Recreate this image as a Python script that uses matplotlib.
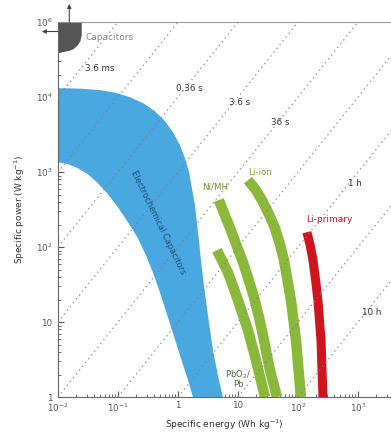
import numpy as np
import matplotlib
matplotlib.use('Agg')
import matplotlib.pyplot as plt

# Ragone plot - specific power vs specific energy

# electrochemical capacitors, upper and lower boundary (Wh/kg, W/kg)
ec_top_e = [0.01, 0.0233, 0.0501, 0.0891, 0.158, 0.261, 0.414, 0.607, 0.826, 1.08, 1.31,
            1.53, 1.71, 1.92, 2.07, 2.24, 2.42, 2.71, 3.16, 3.83, 4.82, 5.62]
ec_top_p = [13200, 12980, 12400, 11480, 10000, 8320, 6500, 4790, 3410, 2290, 1540,
            1000, 612, 363, 215, 124, 67, 31, 12.4, 4.24, 1.69, 1]
ec_bot_e = [0.01, 0.0147, 0.0215, 0.0316, 0.0464, 0.0681, 0.1, 0.147, 0.215, 0.293, 0.383,
            0.501, 0.656, 0.858, 1.12, 1.47, 1.78]
ec_bot_p = [1360, 1280, 1130, 940, 713, 509, 341, 215, 132, 78, 46,
            25.1, 12.8, 6.5, 3.31, 1.69, 1]

# capacitors corner
cap_e = [0.01, 0.025, 0.025, 0.0238, 0.0215, 0.0185, 0.0158, 0.0125, 0.01]
cap_p = [1e5, 1e5, 6.7e4, 5.6e4, 4.9e4, 4.4e4, 4.15e4, 4.0e4, 3.9e4]

# batteries (centre lines)
nimh_e = [4.8, 5.9, 7.4, 9.5, 12.1, 15.2, 18.5, 22.2, 26.1, 34.1, 44.7]
nimh_p = [424, 280, 179, 105, 63, 36, 21.5, 12, 6.7, 2.3, 1]
pb_e = [4.47, 5.5, 6.8, 8.3, 10, 14.7, 20, 28.2]
pb_p = [91, 65, 46, 30, 19.6, 7.8, 3.1, 1]
liion_e = [14.7, 19.5, 25.1, 32.5, 41.4, 50, 58.5, 67, 76.4, 92.6, 112]
liion_p = [782, 590, 424, 280, 179, 110, 67, 36, 19.6, 5.75, 1]
lip_e = [141, 160, 178, 197, 215, 242, 261]
lip_p = [158, 105, 67, 36, 19.6, 5.75, 1]

# constant discharge time lines (hours)
times_h = [1e-6, 1e-5, 1e-4, 1e-3, 1e-2, 1e-1, 1, 10, 100]
time_labels = ['3.6 ms', '0.36 s', '3.6 s', '36 s', '1 h', '10 h']
time_lab_e = [0.05, 1.58, 10.8, 50, 891, 1710]
time_lab_p = [2.4e4, 1.32e4, 8.6e3, 4.6e3, 713, 13.6]

xticks = [1e-2, 1e-1, 1, 10, 100, 1000]
xticklabels = ['10$^{-2}$', '10$^{-1}$', '1', '10', '10$^2$', '10$^3$']
yticks = [1, 10, 100, 1e3, 1e4, 1e5]
yticklabels = ['1', '10', '10$^2$', '10$^3$', '10$^4$', '10$^6$']

fig = plt.figure(figsize=(3.91, 4.34), dpi=100)
ax = fig.add_axes([0.148, 0.085, 0.852, 0.864])
ax.set_xscale('log')
ax.set_yscale('log')
ax.set_xlim(1e-2, 10**3.55)
ax.set_ylim(1, 1e5)

blue = '#4aa8e0'
green = '#8ab83a'
red = '#d0141e'

ax.fill(ec_top_e + ec_bot_e[::-1], ec_top_p + ec_bot_p[::-1], color=blue, lw=0, zorder=2)
ax.fill(cap_e, cap_p, color='#555555', lw=0, zorder=2)

for e, p in [(nimh_e, nimh_p), (pb_e, pb_p), (liion_e, liion_p)]:
    ax.plot(e, p, color=green, lw=7.5, solid_capstyle='butt', solid_joinstyle='round', zorder=3)
ax.plot(lip_e, lip_p, color=red, lw=6.5, solid_capstyle='butt', solid_joinstyle='round', zorder=3)

ee = np.logspace(-2, 4, 50)
for t in times_h:
    ax.plot(ee, ee / t, color='#808080', ls=(0, (1, 2.5)), lw=1.0, alpha=0.8, zorder=4)

for lab, e, p in zip(time_labels, time_lab_e, time_lab_p):
    ax.text(e, p, lab, fontsize=6.3, color='#333333', ha='center', va='center', zorder=5)

ax.text(0.029, 6.3e4, 'Capacitors', fontsize=6.5, color='#888888', ha='left', va='center')
ax.text(0.46, 215, 'Electrochemical Capacitors', fontsize=6, color='#1f4e79',
        rotation=-64, ha='center', va='center', zorder=5)
ax.text(4.1, 631, 'Ni/MH', fontsize=6.3, color='#6f8f2a', ha='center', va='center')
ax.text(23.3, 1000, 'Li-ion', fontsize=6.3, color='#7fa632', ha='center', va='center')
ax.text(329, 236, 'Li-primary', fontsize=6.5, color=red, ha='center', va='center')
ax.text(10, 1.75, 'PbO$_2$/\nPb', fontsize=6, color='#4f6a3a', ha='center', va='center',
        linespacing=0.9)

# arrows out of the capacitors box
ax.annotate('', xy=(0.0155, 1.75e5), xytext=(0.0155, 1e5), xycoords='data',
            arrowprops=dict(arrowstyle='-|>', color='#444444', lw=0.8, mutation_scale=6,
                            shrinkA=0, shrinkB=0),
            annotation_clip=False)
ax.annotate('', xy=(0.0054, 7.5e4), xytext=(0.01, 7.5e4), xycoords='data',
            arrowprops=dict(arrowstyle='-|>', color='#444444', lw=0.8, mutation_scale=6,
                            shrinkA=0, shrinkB=0),
            annotation_clip=False)

ax.set_xticks(xticks)
ax.set_xticklabels(xticklabels)
ax.set_yticks(yticks)
ax.set_yticklabels(yticklabels)
ax.tick_params(which='both', direction='in', labelsize=6.3, colors='#555555')
ax.tick_params(axis='x', pad=3)
ax.tick_params(axis='y', pad=4)
ax.tick_params(which='major', length=4, width=0.8)
ax.tick_params(which='minor', length=2, width=0.6)

ax.spines['right'].set_visible(False)
ax.spines['top'].set_color('#999999')
ax.spines['left'].set_color('#666666')
ax.spines['bottom'].set_color('#666666')

ax.set_xlabel('Specific energy (Wh kg$^{-1}$)', fontsize=6.5, color='#333333', labelpad=3)
ax.set_ylabel('Specific power (W kg$^{-1}$)', fontsize=6.5, color='#333333', labelpad=6)

plt.savefig('out.png', dpi=100)
